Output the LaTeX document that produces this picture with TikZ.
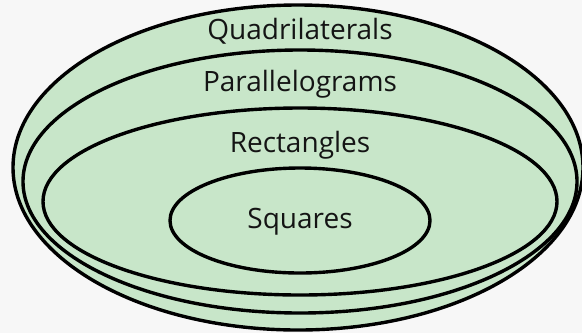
\documentclass[tikz,border=0pt]{standalone}
\usepackage{fontspec}
\setmainfont{Open Sans}
\definecolor{setfill}{RGB}{200,230,201}
\definecolor{paper}{RGB}{247,247,247}

\begin{document}
\begin{tikzpicture}[x=0.5pt, y=-0.5pt,
    set/.style={draw=black, fill=setfill, line width=1.7pt},
    lab/.style={font=\fontsize{14}{16}\selectfont, color=black!92, anchor=base}]

  % ---- page -------------------------------------------------------------------
  \fill[paper] (0,0) rectangle (582,333);
  \useasboundingbox (0,0) rectangle (582,333);

  % ---- nested sets, outermost first ------------------------------------------
  \draw[set] (298,167.5) ellipse [x radius=285, y radius=162.5];
  \draw[set] (300,181.5) ellipse [x radius=277, y radius=131.5];
  \draw[set] (300,201.5) ellipse [x radius=257, y radius=93.5];
  \draw[set] (300,220.5) ellipse [x radius=130, y radius=52.5];

  % ---- labels -----------------------------------------------------------------
  \node[lab] (quad) at (300,39) {Quadrilaterals};
  \node[lab] (para) at (300,91) {Parallelograms};
  \node[lab] (rect) at (300,152) {Rectangles};
  \node[lab] (squa) at (300,228) {Squares};
\end{tikzpicture}
\end{document}
